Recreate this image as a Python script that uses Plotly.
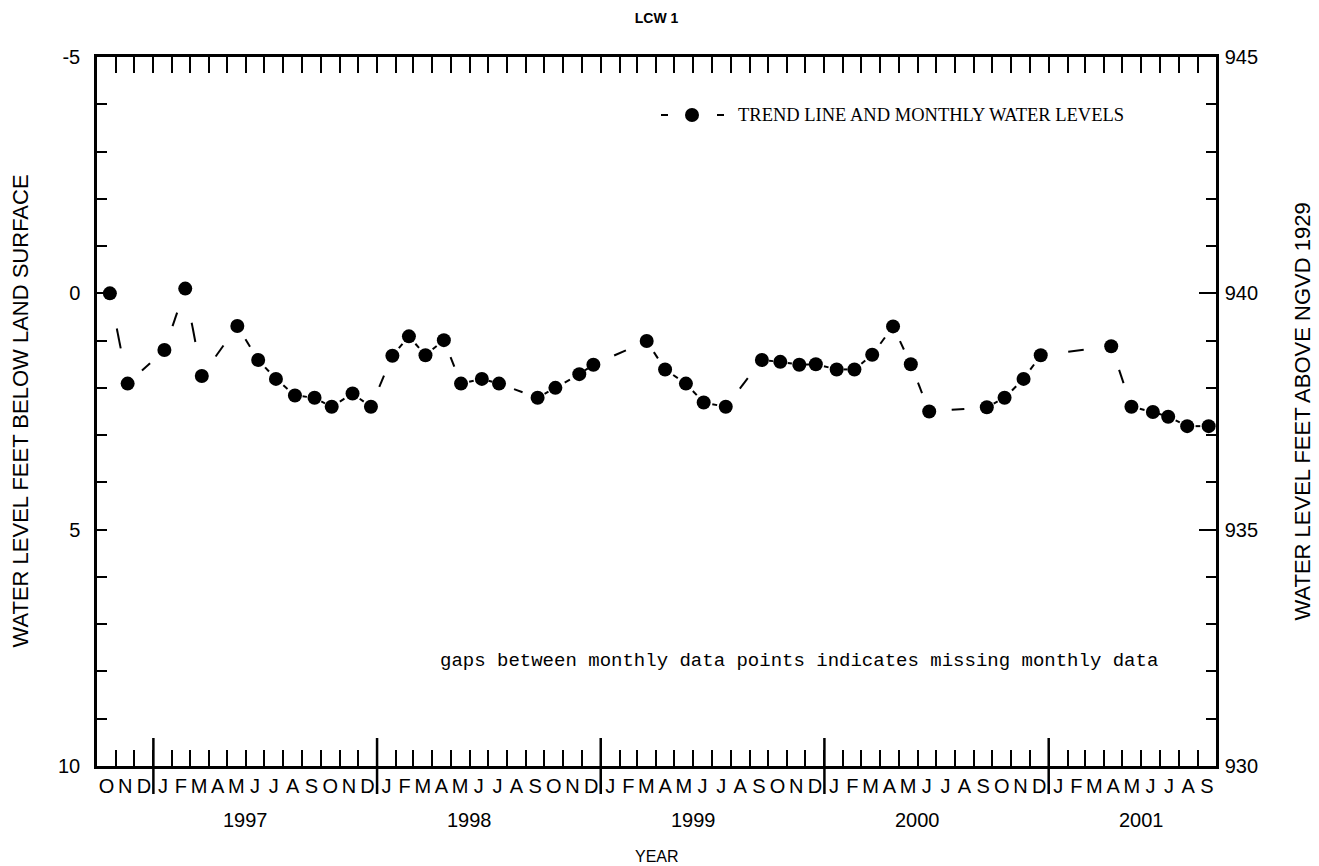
import pandas as pd
import plotly.graph_objects as go

# ---------------- data ----------------
months = ["1996-10", "1996-11", "1997-01", "1997-02", "1997-03", "1997-05", "1997-06",
          "1997-07", "1997-08", "1997-09", "1997-10", "1997-11", "1997-12", "1998-01",
          "1998-02", "1998-03", "1998-04", "1998-05", "1998-06", "1998-07", "1998-09",
          "1998-10", "1998-11", "1998-12", "1999-03", "1999-04", "1999-05", "1999-06",
          "1999-07", "1999-09", "1999-10", "1999-11", "1999-12", "2000-01", "2000-02",
          "2000-03", "2000-04", "2000-05", "2000-06", "2000-09", "2000-10", "2000-11",
          "2000-12", "2001-04", "2001-05", "2001-06", "2001-07", "2001-08", "2001-09"]
days = [22, 20, 19, 22, 21, 18, 21,
        20, 20, 21, 19, 22, 22, 26,
        22, 21, 20, 18, 21, 19, 20,
        19, 27, 20, 17, 16, 20, 18,
        24, 21, 21, 21, 18, 21, 19,
        19, 22, 21, 20, 22, 21, 21,
        19, 13, 16, 20, 15, 15, 19]
depth_ft = [0.00, 1.91, 1.20, -0.10, 1.75, 0.69, 1.41,
            1.81, 2.16, 2.21, 2.40, 2.12, 2.40, 1.32,
            0.91, 1.31, 0.99, 1.91, 1.81, 1.91, 2.21,
            2.00, 1.71, 1.51, 1.01, 1.61, 1.91, 2.31,
            2.40, 1.41, 1.45, 1.51, 1.50, 1.61, 1.61,
            1.30, 0.70, 1.50, 2.50, 2.41, 2.21, 1.81,
            1.31, 1.12, 2.40, 2.51, 2.61, 2.81, 2.81]

month_letters = ["O", "N", "D"] + ["J", "F", "M", "A", "M", "J", "J", "A", "S", "O", "N", "D"] * 4 + \
                ["J", "F", "M", "A", "M", "J", "J", "A", "S"]
years = ["1997", "1998", "1999", "2000", "2001"]
left_ticks = [-5, 0, 5, 10]
right_ticks = [930, 935, 940, 945]

title = "LCW 1"
left_title = "WATER LEVEL FEET BELOW LAND SURFACE"
right_title = "WATER LEVEL FEET ABOVE NGVD 1929"
x_title = "YEAR"
legend_text = "TREND LINE AND MONTHLY WATER LEVELS"
note_text = "gaps between monthly data points indicates missing monthly data"

# ---------------- derived ----------------
dates = pd.to_datetime([f"{m}-{d:02d}" for m, d in zip(months, days)])
x_start, x_end = pd.Timestamp("1996-10-01"), pd.Timestamp("2001-10-01")
month_starts = pd.date_range(x_start, x_end, freq="MS")
month_mids = [s + (e - s) / 2 for s, e in zip(month_starts[:-1], month_starts[1:])]
year_starts = [pd.Timestamp(f"{y}-01-01") for y in years]
year_label_pos = [pd.Timestamp(f"{y}-06-01") for y in years]

# trend line: one dash centred on each segment between consecutive points
seg_x, seg_y = [], []
f0, f1 = 0.39, 0.61
for i in range(len(dates) - 1):
    t0, t1 = dates[i], dates[i + 1]
    v0, v1 = depth_ft[i], depth_ft[i + 1]
    seg_x += [t0 + (t1 - t0) * f0, t0 + (t1 - t0) * f1, None]
    seg_y += [v0 + (v1 - v0) * f0, v0 + (v1 - v0) * f1, None]

SANS = "Liberation Sans, Arial, sans-serif"
SERIF = "Liberation Serif, Times New Roman, serif"
MONO = "Liberation Mono, Courier New, monospace"
LW = 2.5

# page body has an 8px margin: figure occupies window area from (8, 8)
W, H = 1311, 858
PL, PR, PT, PB = 89, 1208, 49, 758          # plot area in figure pixels
PW, PH = PR - PL, PB - PT


def px(xw):   # window x pixel -> paper x
    return (xw - 8 - PL) / PW


def py(yw):   # window y pixel -> paper y
    return (PB - (yw - 8)) / PH


fig = go.Figure()
fig.add_trace(go.Scatter(x=seg_x, y=seg_y, mode="lines",
                         line=dict(color="black", width=2), hoverinfo="skip",
                         showlegend=False, cliponaxis=False))
fig.add_trace(go.Scatter(x=dates, y=depth_ft, mode="markers",
                         marker=dict(color="black", size=14, line=dict(width=0)),
                         showlegend=False, cliponaxis=False))

fig.update_layout(
    width=W, height=H,
    margin=dict(l=PL, r=W - PR, t=PT, b=H - PB),
    paper_bgcolor="white", plot_bgcolor="white",
    showlegend=False,
    title=dict(text=f"<b>{title}</b>", x=0.5, xref="paper", xanchor="center",
               y=1 - 10 / H, yanchor="middle",
               font=dict(family=SANS, size=14, color="black")),
    xaxis=dict(type="date", range=[x_start, x_end], tickmode="array", tickvals=list(month_starts),
               ticks="inside", ticklen=16, tickwidth=2, tickcolor="black",
               showticklabels=False, showline=True, linewidth=LW, linecolor="black",
               mirror="ticks", showgrid=False, zeroline=False),
    xaxis2=dict(type="date", range=[x_start, x_end], overlaying="x", anchor="y", side="bottom",
                tickmode="array", tickvals=month_mids, ticktext=month_letters,
                ticks="", showline=False, showgrid=False, zeroline=False,
                ticklabelstandoff=6,
                tickfont=dict(family=SANS, size=20, color="black")),
    yaxis=dict(range=[10, -5], tickmode="array", tickvals=list(range(-5, 11)),
               ticktext=[str(v) if v in left_ticks else "" for v in range(-5, 11)],
               ticks="inside", ticklen=10, tickwidth=2, tickcolor="black",
               showline=True, linewidth=LW, linecolor="black", mirror=False,
               showgrid=False, zeroline=False, ticklabelstandoff=10,
               tickfont=dict(family=SANS, size=20, color="black")),
    yaxis2=dict(range=[930, 945], overlaying="y", side="right", anchor="x",
                tickmode="array", tickvals=right_ticks,
                ticks="inside", ticklen=17, tickwidth=2, tickcolor="black",
                minor=dict(tickmode="array", tickvals=list(range(930, 946)), ticks="inside",
                           ticklen=10, tickwidth=2, tickcolor="black", showgrid=False),
                showline=True, linewidth=LW, linecolor="black",
                showgrid=False, zeroline=False, ticklabelstandoff=2,
                tickfont=dict(family=SANS, size=20, color="black")),
)

# dummy trace so xaxis2 / yaxis2 are rendered
fig.add_trace(go.Scatter(x=[x_start], y=[None], xaxis="x2", yaxis="y2",
                         showlegend=False, hoverinfo="skip"))

# year divider lines
for ys in year_starts:
    fig.add_shape(type="line", xref="x", yref="paper", x0=ys, x1=ys,
                  y0=py(794), y1=py(738), line=dict(color="black", width=LW), layer="above")

annotations = []
for lab, pos in zip(years, year_label_pos):
    annotations.append(dict(x=pos, y=py(820), xref="x", yref="paper", text=lab, showarrow=False,
                            xanchor="center", yanchor="middle",
                            font=dict(family=SANS, size=20, color="black")))
annotations.append(dict(x=0.5, y=py(856), xref="paper", yref="paper", text=x_title,
                        showarrow=False, xanchor="center", yanchor="middle",
                        font=dict(family=SANS, size=16, color="black")))
annotations.append(dict(x=px(20), y=0.5, xref="paper", yref="paper", text=left_title,
                        textangle=-90, showarrow=False, xanchor="center", yanchor="middle",
                        font=dict(family=SANS, size=22, color="black")))
annotations.append(dict(x=px(1302), y=0.5, xref="paper", yref="paper", text=right_title,
                        textangle=-90, showarrow=False, xanchor="center", yanchor="middle",
                        font=dict(family=SANS, size=22, color="black")))
annotations.append(dict(x=px(799), y=py(661), xref="paper", yref="paper",
                        text=note_text, showarrow=False, xanchor="center", yanchor="middle",
                        font=dict(family=MONO, size=19, color="black")))
# legend
leg_y = py(115)
annotations.append(dict(x=px(736), y=leg_y, xref="paper", yref="paper",
                        text=legend_text, showarrow=False, xanchor="left", yanchor="middle",
                        font=dict(family=SERIF, size=18.5, color="black")))
fig.update_layout(annotations=annotations)

for xa, xb in [(661, 668), (717, 724)]:
    fig.add_shape(type="line", xref="paper", yref="paper",
                  x0=px(xa), x1=px(xb), y0=leg_y, y1=leg_y,
                  line=dict(color="black", width=2))
fig.add_shape(type="circle", xref="paper", yref="paper", xsizemode="pixel", ysizemode="pixel",
              xanchor=px(692), yanchor=leg_y, x0=-7, x1=7, y0=-7, y1=7,
              fillcolor="black", line=dict(width=0))

fig.write_html("out.html")
